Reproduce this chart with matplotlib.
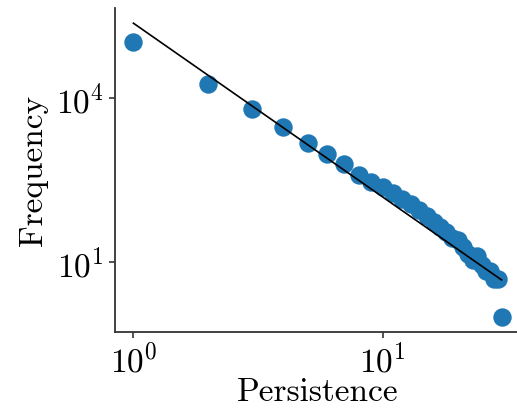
import matplotlib
matplotlib.use("Agg")
import matplotlib.pyplot as plt
import numpy as np
from matplotlib.ticker import NullLocator

# data
persistence = list(range(1, 31))
frequency = [104000, 17600, 6250, 2960, 1520, 930, 620, 390, 290, 236,
             182, 144, 116, 88, 71, 55, 44, 35, 28, 25,
             19, 14, 11, 13, 9, 7, 7, 5, 5, 1]
# power-law fit: frequency = fit_amp * persistence ** fit_exp
fit_amp = 231000
fit_exp = -3.173
yticks = [1e1, 1e4]


def main() -> None:
    plt.rcParams.update({
        'font.family': 'serif',
        'font.serif': ['cmr10'],
        'mathtext.fontset': 'cm',
        'axes.formatter.use_mathtext': True,
        'font.size': 24,
    })
    fig = plt.figure(figsize=(5.17, 4.12), dpi=100)
    ax = fig.add_axes([115 / 517, 80.3 / 412, 405 / 517, 323.2 / 412])

    x = np.array(persistence, dtype=float)
    y = np.array(frequency, dtype=float)
    ax.scatter(x, y, s=150, color='#1f77b4', zorder=2)
    xf = np.array([x.min(), x.max()])
    ax.plot(xf, fit_amp * xf ** fit_exp, color='black', lw=1.2, zorder=3)

    ax.set_xscale('log')
    ax.set_yscale('log')
    ax.set_yticks(yticks)
    ax.xaxis.set_minor_locator(NullLocator())
    ax.yaxis.set_minor_locator(NullLocator())
    ax.set_xlabel('Persistence', labelpad=0)
    ax.set_ylabel('Frequency', labelpad=6)

    for side in ['top', 'right']:
        ax.spines[side].set_visible(False)
    for side in ['left', 'bottom']:
        ax.spines[side].set_color('#333333')
        ax.spines[side].set_linewidth(1.3)
    ax.tick_params(direction='out', length=4, width=1.2, color='#333333',
                   labelsize=24, pad=4)

    fig.savefig('out.png', dpi=100)


if __name__ == "__main__":
    main()
